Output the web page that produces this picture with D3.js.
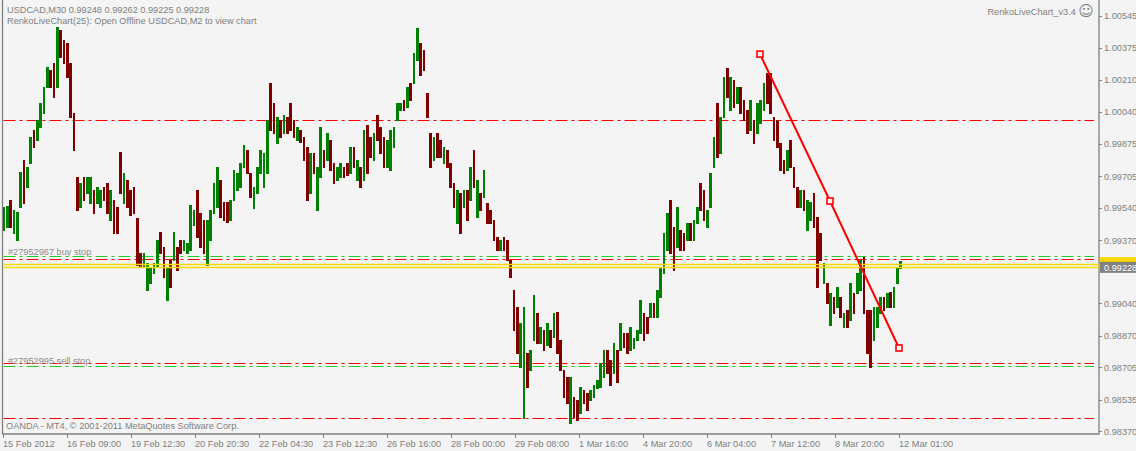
<!DOCTYPE html>
<html>
<head>
<meta charset="utf-8">
<script src="https://cdn.jsdelivr.net/npm/d3@7"></script>
<style>
  body { margin: 0; background: #f4f4f4; }
  text { font-family: Tahoma, "Liberation Sans", Arial, sans-serif; font-size: 9.2px; fill: #808080; }
</style>
</head>
<body>
<script>
// USDCAD M30 price bars (each drawn bar spans ~100 minutes)
const highs = [
  0.99544,0.99549,0.99580,0.99528,0.99518,0.99727,0.99790,0.99753,0.99910,0.99947,
  0.99999,1.00088,1.00172,1.00276,1.00261,1.00297,1.00486,1.00470,1.00418,1.00402,
  1.00297,1.00036,0.99701,0.99669,0.99701,0.99701,0.99701,0.99633,0.99648,0.99633,
  0.99648,0.99669,0.99633,0.99580,0.99544,0.99832,0.99722,0.99685,0.99633,0.99648,
  0.99486,0.99303,0.99303,0.99251,0.99230,0.99251,0.99371,0.99413,0.99334,0.99230,
  0.99266,0.99413,0.99334,0.99371,0.99371,0.99355,0.99554,0.99528,0.99633,0.99512,
  0.99476,0.99476,0.99528,0.99669,0.99753,0.99685,0.99570,0.99570,0.99580,0.99737,
  0.99722,0.99774,0.99868,0.99842,0.99722,0.99648,0.99753,0.99842,0.99826,0.99999,
  1.00193,1.00088,1.00015,0.99999,1.00025,1.00015,1.00088,0.99999,0.99962,0.99947,
  0.99910,0.99858,0.99826,0.99826,0.99753,0.99962,0.99842,0.99931,0.99894,0.99774,
  0.99753,0.99774,0.99753,0.99774,0.99858,0.99858,0.99790,0.99753,0.99947,0.99973,
  0.99910,0.99931,1.00025,0.99962,0.99910,0.99894,0.99947,0.99962,1.00088,1.00088,
  1.00104,1.00172,1.00193,1.00350,1.00480,1.00402,1.00365,1.00140,0.99931,0.99910,
  0.99931,0.99894,0.99858,0.99842,0.99774,0.99669,0.99633,0.99617,0.99633,0.99633,
  0.99753,0.99842,0.99685,0.99617,0.99737,0.99565,0.99528,0.99476,0.99387,0.99371,
  0.99387,0.99371,0.99266,0.99109,0.99020,0.98937,0.99020,0.98780,0.98795,0.99083,
  0.98989,0.98916,0.98900,0.98937,0.98900,0.98989,0.98994,0.98848,0.98691,0.98654,
  0.98654,0.98550,0.98534,0.98602,0.98586,0.98570,0.98586,0.98612,0.98639,0.98727,
  0.98795,0.98795,0.98743,0.98832,0.98795,0.98937,0.98884,0.98884,0.98916,0.98858,
  0.98900,0.99057,0.98989,0.98968,0.99041,0.99041,0.99109,0.99230,0.99408,0.99512,
  0.99580,0.99439,0.99544,0.99423,0.99408,0.99460,0.99460,0.99476,0.99544,0.99669,
  0.99633,0.99528,0.99722,0.99910,1.00088,1.00015,1.00224,1.00271,1.00224,1.00208,
  1.00172,1.00172,1.00104,1.00051,1.00104,0.99999,1.00088,1.00104,1.00193,1.00245,
  1.00245,1.00015,0.99999,0.99879,0.99790,0.99842,0.99894,0.99753,0.99648,0.99633,
  0.99633,0.99580,0.99570,0.99617,0.99491,0.99408,0.99251,0.99146,0.99094,0.99073,
  0.99125,0.99073,0.98989,0.99005,0.99146,0.99094,0.99198,0.99266,0.99282,0.99005,
  0.99005,0.99020,0.99020,0.99073,0.99073,0.99094,0.99099,0.99125,0.99230,0.99262
];
const lows = [
  0.99423,0.99439,0.99439,0.99408,0.99371,0.99544,0.99565,0.99648,0.99774,0.99858,
  0.99894,0.99962,1.00036,1.00172,1.00172,1.00119,1.00172,1.00329,1.00297,1.00224,
  1.00015,0.99842,0.99528,0.99544,0.99580,0.99617,0.99565,0.99512,0.99565,0.99544,
  0.99580,0.99512,0.99476,0.99408,0.99408,0.99617,0.99565,0.99544,0.99502,0.99512,
  0.99240,0.99230,0.99230,0.99109,0.99146,0.99198,0.99230,0.99303,0.99177,0.99057,
  0.99125,0.99266,0.99214,0.99303,0.99319,0.99303,0.99319,0.99450,0.99387,0.99334,
  0.99303,0.99240,0.99371,0.99512,0.99544,0.99491,0.99476,0.99465,0.99476,0.99580,
  0.99633,0.99648,0.99753,0.99722,0.99596,0.99539,0.99617,0.99722,0.99648,0.99722,
  0.99947,0.99931,0.99879,0.99910,0.99931,0.99931,0.99947,0.99910,0.99894,0.99884,
  0.99790,0.99580,0.99617,0.99722,0.99528,0.99701,0.99753,0.99790,0.99737,0.99669,
  0.99685,0.99701,0.99701,0.99711,0.99722,0.99753,0.99685,0.99648,0.99685,0.99722,
  0.99805,0.99790,0.99894,0.99826,0.99753,0.99753,0.99737,0.99858,0.99999,1.00051,
  1.00051,1.00067,1.00104,1.00193,1.00313,1.00235,1.00261,1.00015,0.99753,0.99790,
  0.99805,0.99805,0.99774,0.99753,0.99648,0.99544,0.99460,0.99408,0.99544,0.99476,
  0.99580,0.99648,0.99491,0.99528,0.99596,0.99460,0.99460,0.99371,0.99319,0.99319,
  0.99319,0.99266,0.99177,0.98900,0.98780,0.98707,0.98440,0.98602,0.98691,0.98848,
  0.98832,0.98832,0.98795,0.98822,0.98811,0.98864,0.98780,0.98691,0.98550,0.98518,
  0.98413,0.98445,0.98429,0.98466,0.98518,0.98482,0.98534,0.98550,0.98597,0.98602,
  0.98654,0.98675,0.98612,0.98675,0.98628,0.98795,0.98811,0.98780,0.98795,0.98806,
  0.98848,0.98884,0.98848,0.98884,0.98968,0.98968,0.98968,0.99073,0.99198,0.99319,
  0.99303,0.99214,0.99334,0.99319,0.99319,0.99371,0.99371,0.99371,0.99460,0.99528,
  0.99476,0.99439,0.99544,0.99753,0.99805,0.99826,1.00015,1.00119,1.00051,1.00067,
  1.00088,1.00036,0.99999,0.99931,0.99947,0.99879,0.99931,0.99983,1.00051,1.00088,
  1.00036,0.99894,0.99858,0.99737,0.99722,0.99737,0.99753,0.99648,0.99544,0.99544,
  0.99528,0.99423,0.99476,0.99439,0.99125,0.99266,0.99146,0.99041,0.98926,0.98989,
  0.99020,0.98968,0.98916,0.98916,0.98952,0.98989,0.99094,0.99109,0.98989,0.98780,
  0.98707,0.98848,0.98916,0.98989,0.99005,0.99020,0.99020,0.99020,0.99146,0.99225
];
// 1 = bullish (close above open), 0 = bearish
const upBars = [
  1,1,0,1,1,1,0,1,1,0, 1,1,1,1,0,0,1,0,0,0, 0,0,0,1,0,1,1,0,1,1,
  0,0,1,0,0,0,1,0,0,0, 0,0,1,1,1,1,1,0,0,1, 0,1,0,0,1,1,1,1,0,0,
  0,1,1,1,1,0,0,0,1,1, 1,1,1,0,0,1,1,1,1,1, 0,0,1,0,1,0,0,0,1,0,
  0,0,1,0,1,1,0,1,0,0, 1,1,0,0,1,0,1,0,1,0, 0,1,0,0,0,1,1,1,1,1,
  0,1,0,1,1,0,0,0,0,1, 0,0,1,0,0,0,1,0,1,0, 1,0,1,0,1,0,0,0,0,1,
  0,0,0,0,0,1,1,0,1,1, 0,1,0,1,0,1,0,0,0,0, 1,0,0,1,0,0,1,1,1,1,
  1,0,0,1,0,1,0,0,1,1, 1,1,0,0,1,0,1,1,1,1, 0,0,1,0,0,1,0,1,1,0,
  0,1,1,1,0,1,1,0,1,0, 1,0,0,0,1,0,1,1,1,0, 0,0,0,0,0,1,0,0,0,1,
  0,1,1,0,0,0,1,0,1,0, 1,0,1,0,1,0,1,1,0,0, 0,1,1,1,0,1,0,1,1,1
];
const barSpan = 10 / 3; // M30 periods covered by one drawn bar

// Price axis ticks (MT4 style, uneven steps; 0.99205 sits under the quote boxes)
const priceTicks = [1.00545, 1.00375, 1.00210, 1.00040, 0.99875, 0.99705, 0.99540,
  0.99370, 0.99040, 0.98870, 0.98705, 0.98535, 0.98370];

// Time axis: position in M30 periods from the first bar, and label
const timeTicks = [0, 64, 128, 192, 256, 320, 384, 448, 512, 576, 640, 704, 768, 832, 896];
const timeLabels = ["15 Feb 2012", "16 Feb 09:00", "19 Feb 12:30", "20 Feb 20:30",
  "22 Feb 04:30", "23 Feb 12:30", "26 Feb 16:00", "28 Feb 00:00", "29 Feb 08:00",
  "1 Mar 16:00", "4 Mar 20:00", "6 Mar 04:00", "7 Mar 12:00", "8 Mar 20:00", "12 Mar 01:00"];

// Horizontal levels
const redLevels = [1.00000, 0.99270, 0.98726, 0.98440];
const greenLevels = [0.99287, 0.98713];
const orderLabels = ["#27952967 buy stop", "#27952995 sell stop"];
const quoteLevels = [0.99245, 0.99228]; // ask, bid
const bidLabel = "0.99228";

// Trendline anchor points: [M30 period, price]
const trendPoints = [[757, 1.00344], [827, 0.99575], [896, 0.98806]];

const width = 1136;
const height = 451;
const plot = { left: 2.5, right: 1099, bottom: 434 };

const svg = d3.select("body").append("svg")
  .attr("width", width)
  .attr("height", height)
  .style("display", "block")
  .style("background", "#f4f4f4");

const x = d3.scaleLinear().domain([0, 900]).range([3, 903]);
const y = d3.scaleLinear().domain([0.98370, 1.00545]).range([431.3, 15.7]);
const py = (d) => Math.round(y(d)) + 0.5; // pixel-aligned horizontal lines

const dashDot = "12,4,3,4";

// Frame
svg.append("path")
  .attr("d", `M${plot.left},0V${plot.bottom}H${plot.right}V0`)
  .attr("fill", "none")
  .attr("stroke", "#808080")
  .attr("stroke-width", 1.3);

// Price axis on the right
const yAxis = svg.append("g").attr("class", "y-axis");
yAxis.selectAll("line")
  .data(priceTicks)
  .enter()
  .append("line")
  .attr("x1", plot.right)
  .attr("x2", plot.right + 3)
  .attr("y1", py)
  .attr("y2", py)
  .attr("stroke", "#808080");
yAxis.selectAll("text")
  .data(priceTicks)
  .enter()
  .append("text")
  .attr("x", plot.right + 5)
  .attr("y", (d) => y(d) + 3.3)
  .text((d) => d3.format(".5f")(d));

// Time axis at the bottom
const xAxis = svg.append("g").attr("class", "x-axis");
xAxis.selectAll("line")
  .data(timeTicks)
  .enter()
  .append("line")
  .attr("x1", (d) => x(d) + 0.5)
  .attr("x2", (d) => x(d) + 0.5)
  .attr("y1", plot.bottom)
  .attr("y2", plot.bottom + 4)
  .attr("stroke", "#808080");
xAxis.selectAll("text")
  .data(timeTicks)
  .enter()
  .append("text")
  .attr("x", (d) => x(d))
  .attr("y", 446.5)
  .text((d, i) => timeLabels[i]);

// Dash-dot order / level lines
svg.selectAll(".red-level")
  .data(redLevels)
  .enter()
  .append("line")
  .attr("x1", plot.left + 1)
  .attr("x2", 1094)
  .attr("y1", py)
  .attr("y2", py)
  .attr("stroke", "#ff0000")
  .attr("stroke-width", 1)
  .attr("stroke-dasharray", dashDot);

svg.selectAll(".green-level")
  .data(greenLevels)
  .enter()
  .append("line")
  .attr("x1", plot.left + 1)
  .attr("x2", 1094)
  .attr("y1", py)
  .attr("y2", py)
  .attr("stroke", "#22cc22")
  .attr("stroke-width", 1)
  .attr("stroke-dasharray", dashDot);

svg.selectAll(".order-label")
  .data(greenLevels)
  .enter()
  .append("text")
  .attr("x", 8)
  .attr("y", (d) => y(d) - 1.5)
  .style("fill", "#8c8c8c")
  .text((d, i) => orderLabels[i]);

// Price bars
svg.selectAll(".bar")
  .data(highs)
  .enter()
  .append("line")
  .attr("x1", (d, i) => x(i * barSpan) + 1)
  .attr("x2", (d, i) => x(i * barSpan) + 1)
  .attr("y1", (d) => y(d))
  .attr("y2", (d, i) => y(lows[i]) + 1)
  .attr("stroke", (d, i) => (upBars[i] ? "#008000" : "#800000"))
  .attr("stroke-width", 2.5)
  .attr("shape-rendering", "crispEdges");

// Bid / ask lines
svg.selectAll(".quote-line")
  .data(quoteLevels)
  .enter()
  .append("line")
  .attr("x1", plot.left + 1)
  .attr("x2", plot.right)
  .attr("y1", py)
  .attr("y2", py)
  .attr("stroke", "#ffd700")
  .attr("stroke-width", 1.5);

// Trendline with its anchor squares
svg.append("path")
  .datum(trendPoints)
  .attr("d", d3.line().x((d) => x(d[0])).y((d) => y(d[1])))
  .attr("fill", "none")
  .attr("stroke", "#ff0000")
  .attr("stroke-width", 2);
svg.selectAll(".anchor")
  .data(trendPoints)
  .enter()
  .append("rect")
  .attr("x", (d) => x(d[0]) - 3)
  .attr("y", (d) => y(d[1]) - 3)
  .attr("width", 6)
  .attr("height", 6)
  .attr("fill", "#ffffff")
  .attr("stroke", "#ff0000")
  .attr("stroke-width", 1.6);

// Price boxes on the axis (ask box peeks out above the bid box)
svg.append("rect")
  .attr("x", plot.right + 1)
  .attr("y", y(quoteLevels[0]) - 7)
  .attr("width", 38)
  .attr("height", 10)
  .attr("fill", "#ffd700");
svg.append("rect")
  .attr("x", plot.right + 1)
  .attr("y", y(quoteLevels[1]) - 5.5)
  .attr("width", 38)
  .attr("height", 11)
  .attr("fill", "#808080");
svg.append("text")
  .attr("x", plot.right + 5)
  .attr("y", y(quoteLevels[1]) + 3.5)
  .style("fill", "#ffffff")
  .text(bidLabel);

// Header texts
svg.append("text")
  .attr("x", 7)
  .attr("y", 13)
  .text("USDCAD,M30  0.99248 0.99262 0.99225 0.99228");
svg.append("text")
  .attr("x", 7)
  .attr("y", 24)
  .text("RenkoLiveChart(25): Open Offline USDCAD,M2 to view chart");
const badge = svg.append("text")
  .attr("x", 1094)
  .attr("y", 15)
  .attr("text-anchor", "end");
badge.append("tspan").text("RenkoLiveChart_v3.4 ");
badge.append("tspan")
  .style("font-family", "'DejaVu Sans', sans-serif")
  .style("font-size", "15px")
  .attr("dy", 1)
  .text("\u263A");
svg.append("text")
  .attr("x", 6)
  .attr("y", 429)
  .text("OANDA - MT4, \u00A9 2001-2011 MetaQuotes Software Corp.");
</script>
</body>
</html>
